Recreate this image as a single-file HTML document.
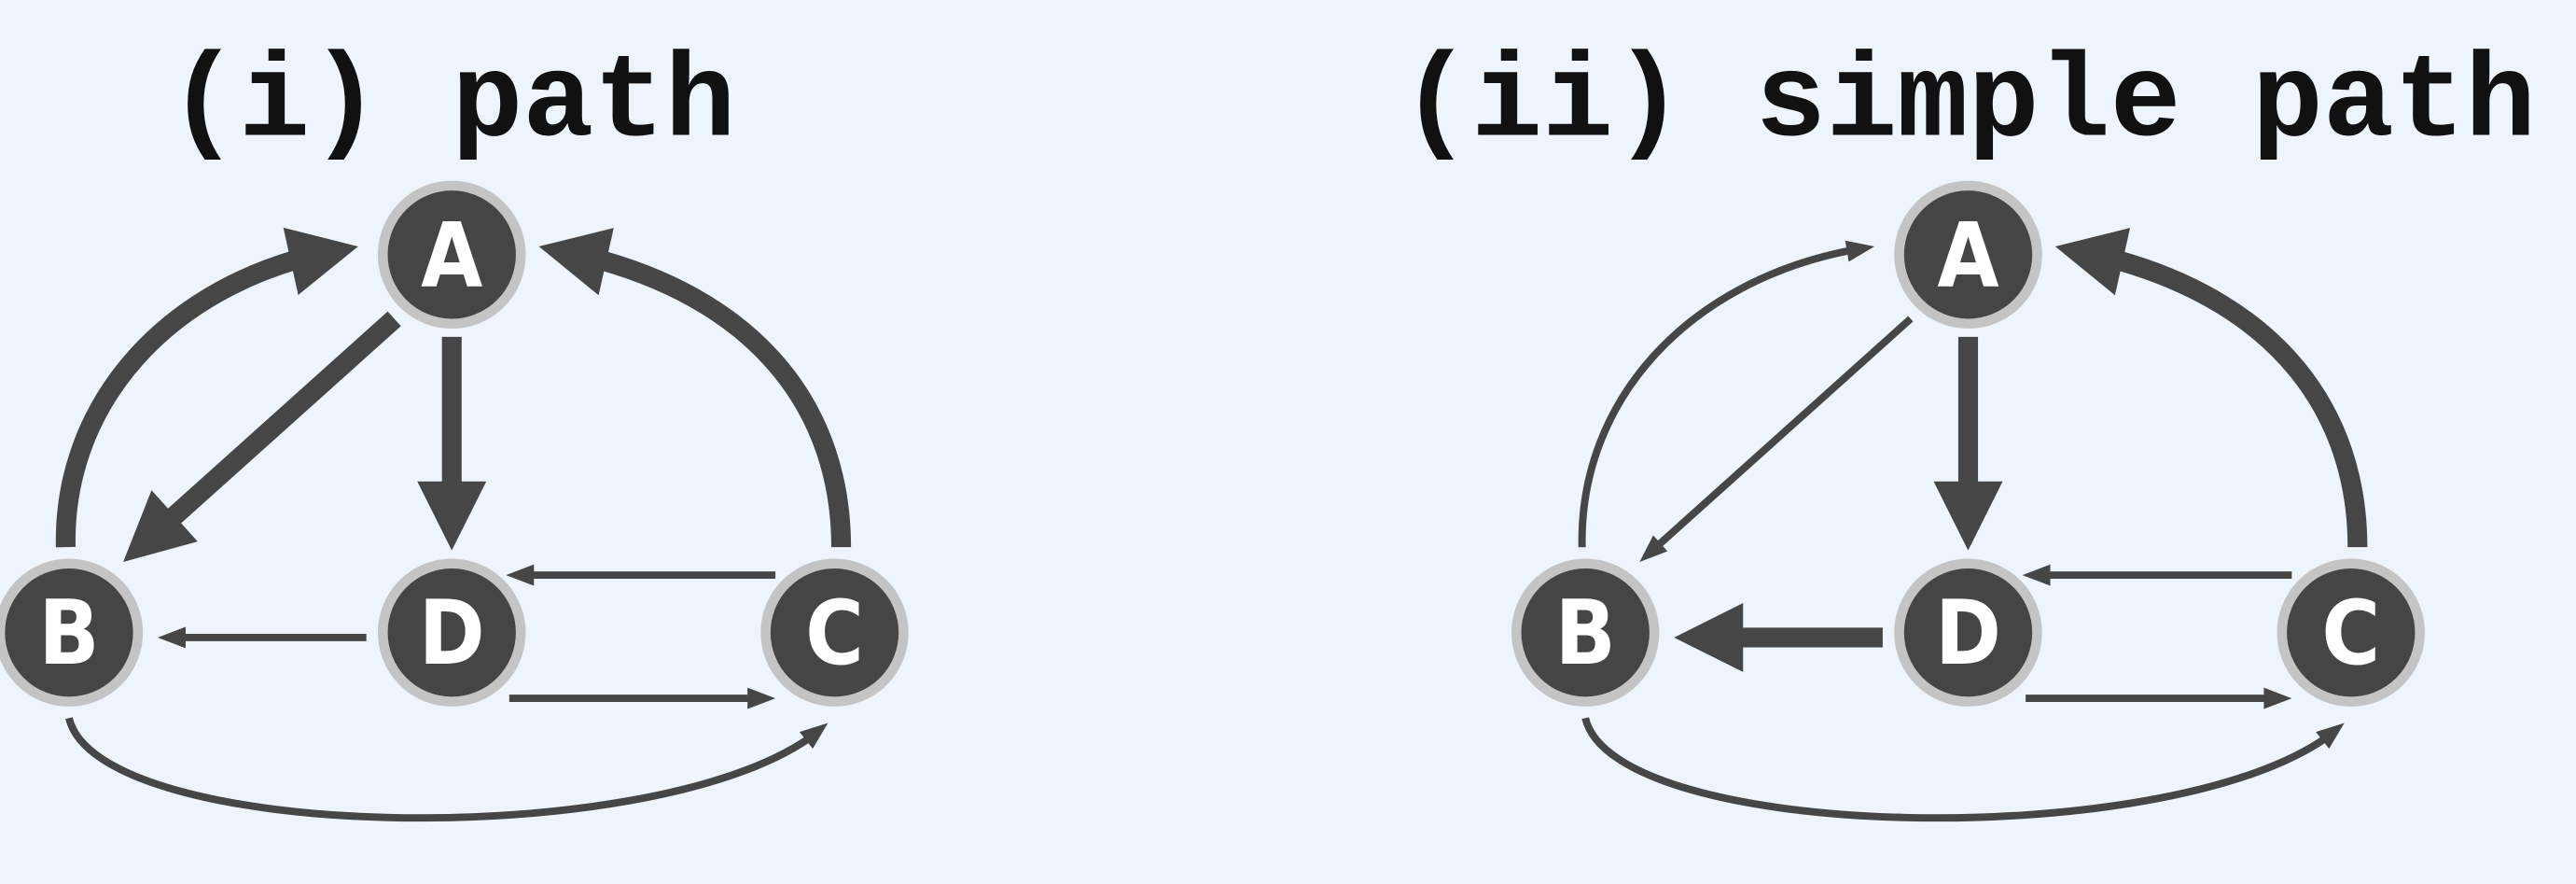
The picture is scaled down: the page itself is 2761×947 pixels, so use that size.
<!DOCTYPE html>
<html><head><meta charset="utf-8"><style>
html,body{margin:0;padding:0;background:#eef4fb;}
svg{display:block;}
</style></head><body>
<svg id="svg" width="2761" height="947" viewBox="0 0 1568 538" preserveAspectRatio="none" xmlns="http://www.w3.org/2000/svg">
<rect width="1568" height="538" fill="#eef4fb"/>
<g id="g1"></g>
<g id="g2" transform="translate(923,0)"></g>
</svg>
<script>
const titles = ["(i) path", "(ii) simple path"];
const nodes = [["A",275,155],["B",42,385],["D",275,385],["C",508,385]];
const edgeNames = ["b-to-a","a-to-b","a-to-d","c-to-a","d-to-b","c-to-d","d-to-c","b-to-c"];
const edgePaths = ["M40,333 C38,240 110,165 218,150","M240,194 L75,342","M275,205 L275,335","M512,333 C512,240 450,170 328,150","M223,388 L96,388","M472,350 L308,350","M310,425 L472,425","M42,437 C60,515 420,520 504,440"];
const thick1 = [1,1,1,1,0,0,0,0];
const thick2 = [0,0,1,1,1,0,0,0];
const NS="http://www.w3.org/2000/svg";
function build(g, thick, title){
  const t=document.createElementNS(NS,'text');
  
  
  t.setAttribute('x',275);t.setAttribute('y',82);t.setAttribute('text-anchor','middle');
  t.setAttribute('font-family','Liberation Mono, monospace');t.setAttribute('font-weight','bold');
  t.setAttribute('font-size','72');t.setAttribute('fill','#111');
  t.textContent=title;g.appendChild(t);
  edgePaths.forEach((d,i)=>{
    const w=thick[i]?12:4.5, hl=thick[i]?42:17, hw=thick[i]?21:6.5;
    const p=document.createElementNS(NS,'path');
    
    
    p.setAttribute('d',d);p.setAttribute('fill','none');p.setAttribute('stroke','#464646');
    p.setAttribute('stroke-width',w);
    g.appendChild(p);
    const L=p.getTotalLength();
    p.setAttribute('stroke-dasharray',(L-hl+3)+' 10000');
    const e=p.getPointAtLength(L), b=p.getPointAtLength(L-hl);
    const dx=e.x-b.x, dy=e.y-b.y, n=Math.hypot(dx,dy)||1, ux=dx/n, uy=dy/n;
    const bx=e.x-ux*hl, by=e.y-uy*hl;
    const h=document.createElementNS(NS,'path');
    
    
    h.setAttribute('d',`M${e.x},${e.y} L${bx-uy*hw},${by+ux*hw} L${bx+uy*hw},${by-ux*hw} Z`);
    h.setAttribute('fill','#464646');
    g.appendChild(h);
  });
  nodes.forEach(n=>{
    const c=document.createElementNS(NS,'circle');
    
    
    c.setAttribute('cx',n[1]);c.setAttribute('cy',n[2]);c.setAttribute('r',42);
    c.setAttribute('fill','#454545');c.setAttribute('stroke','#c4c4c4');c.setAttribute('stroke-width',6);
    g.appendChild(c);
    const t=document.createElementNS(NS,'text');
    
    
    t.setAttribute('x',n[1]);t.setAttribute('y',n[2]+19);t.setAttribute('text-anchor','middle');
    t.setAttribute('font-family','DejaVu Sans Condensed, DejaVu Sans, sans-serif');t.setAttribute('font-weight','bold');
    t.setAttribute('font-size','54');t.setAttribute('fill','#fff');
    t.textContent=n[0];g.appendChild(t);
  });
}
build(document.getElementById('g1'),thick1,titles[0]);
build(document.getElementById('g2'),thick2,titles[1]);
</script>
</body></html>
